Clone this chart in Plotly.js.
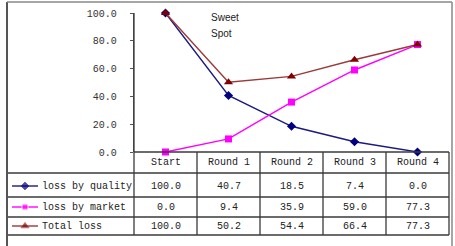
<!DOCTYPE html>
<html>
<head>
<meta charset="utf-8">
<script src="https://cdn.plot.ly/plotly-3.0.1.min.js"></script>
<style>html,body{margin:0;padding:0;background:#fff;}#chart{width:455px;height:246px;}</style>
</head>
<body>
<div id="chart"></div>
<script>
var categories = ["Start", "Round 1", "Round 2", "Round 3", "Round 4"];
var lossByQuality = [100.0, 40.7, 18.5, 7.4, 0.0];
var lossByMarket = [0.0, 9.4, 35.9, 59.0, 77.3];
var totalLoss = [100.0, 50.2, 54.4, 66.4, 77.3];
var seriesNames = ["loss by quality", "loss by market", "Total loss"];
var yTicks = [0, 20, 40, 60, 80, 100];

var W = 455, H = 246;
function px(x){ return x / W; }
function py(y){ return 1 - y / H; }

var seriesData = [lossByQuality, lossByMarket, totalLoss];
var lineColors = ["#1a1a80", "#ff00ff", "#9b3a3a"];
var markerColors = ["#000080", "#ff00ff", "#800000"];
var symbols = ["diamond", "square", "triangle-up"];
var msizes = [7, 7, 8];
var rowY = [186, 207, 226];
var rowLines = [152, 173, 197, 217, 235];
var colLines = [134, 197, 260, 323, 386, 449];

var traces = [];
seriesData.forEach(function(vals, i){
  traces.push({
    type: "scatter", mode: "lines+markers",
    x: categories.map(function(c, k){ return k; }), y: vals,
    name: seriesNames[i],
    line: {color: lineColors[i], width: 1.4},
    marker: {symbol: symbols[i], size: msizes[i], color: markerColors[i]},
    showlegend: false, hoverinfo: "skip", cliponaxis: false
  });
});
// legend keys in table
seriesNames.forEach(function(n, i){
  traces.push({
    type: "scatter", mode: "lines+markers",
    x: [12, 25, 38], y: [rowY[i], rowY[i], rowY[i]],
    xaxis: "x2", yaxis: "y2",
    line: {color: lineColors[i], width: 1.4},
    marker: {symbol: symbols[i], size: [0, msizes[i] - 1, 0], color: markerColors[i]},
    showlegend: false, hoverinfo: "skip", cliponaxis: false
  });
});

var shapes = [];
var lc = "#3a3a3a";
rowLines.forEach(function(y, i){
  var x0 = (i === 0) ? 134 : 8;
  shapes.push({type: "line", xref: "paper", yref: "paper", x0: px(x0), x1: px(449), y0: py(y), y1: py(y), line: {color: lc, width: 1.3}});
});
colLines.forEach(function(x, i){
  var y0 = (i === 0) ? 13 : 152;
  shapes.push({type: "line", xref: "paper", yref: "paper", x0: px(x), x1: px(x), y0: py(y0), y1: py(235), line: {color: lc, width: 1.3}});
});
shapes.push({type: "line", xref: "paper", yref: "paper", x0: px(7), x1: px(7), y0: py(2), y1: py(248), line: {color: "#555", width: 2}});
shapes.push({type: "line", xref: "paper", yref: "paper", x0: px(7), x1: px(452), y0: py(2), y1: py(2), line: {color: "#888", width: 1.5}});
shapes.push({type: "line", xref: "paper", yref: "paper", x0: px(452), x1: px(452), y0: py(2), y1: py(248), line: {color: "#888", width: 1.5}});

var tfont = {family: "Liberation Mono, Courier New, monospace", size: 10, color: "#222"};
var annotations = [];
categories.forEach(function(c, k){
  annotations.push({xref: "x", yref: "paper", x: k, y: py(162), text: c, showarrow: false, xanchor: "center", yanchor: "middle", font: tfont});
});
seriesNames.forEach(function(n, i){
  annotations.push({xref: "paper", yref: "paper", x: px(40), y: py(rowY[i]), text: n, showarrow: false, xanchor: "left", yanchor: "middle", font: tfont});
  seriesData[i].forEach(function(v, k){
    annotations.push({xref: "x", yref: "paper", x: k, y: py(rowY[i]), text: v.toFixed(1), showarrow: false, xanchor: "center", yanchor: "middle", font: tfont});
  });
});
var sfont = {family: "Liberation Sans, Arial, sans-serif", size: 10, color: "#222"};
annotations.push({xref: "paper", yref: "paper", x: px(209), y: py(18), text: "Sweet", showarrow: false, xanchor: "left", yanchor: "middle", font: sfont});
annotations.push({xref: "paper", yref: "paper", x: px(209), y: py(33), text: "Spot", showarrow: false, xanchor: "left", yanchor: "middle", font: sfont});

var layout = {
  width: W, height: H,
  margin: {l: 0, r: 0, t: 0, b: 0},
  paper_bgcolor: "#fff", plot_bgcolor: "rgba(0,0,0,0)",
  showlegend: false,
  xaxis: {domain: [px(134), px(449)], range: [-0.5, 4.5], showgrid: false, zeroline: false, showline: false, showticklabels: false, ticks: "", fixedrange: true},
  yaxis: {domain: [py(152), py(13)], range: [0, 100], tickvals: yTicks, tickformat: ".1f", showgrid: false, zeroline: false,
          showline: true, linecolor: "#555", linewidth: 1.3, ticks: "outside", ticklen: 3, tickcolor: "#555",
          tickfont: {family: "Liberation Mono, Courier New, monospace", size: 10, color: "#333"}, ticklabelstandoff: 11, fixedrange: true},
  xaxis2: {domain: [0, 1], range: [0, W], visible: false, anchor: "y2", fixedrange: true},
  yaxis2: {domain: [0, 1], range: [H, 0], visible: false, anchor: "x2", fixedrange: true},
  shapes: shapes,
  annotations: annotations
};
Plotly.newPlot("chart", traces, layout, {displayModeBar: false, staticPlot: true});
</script>
</body>
</html>
